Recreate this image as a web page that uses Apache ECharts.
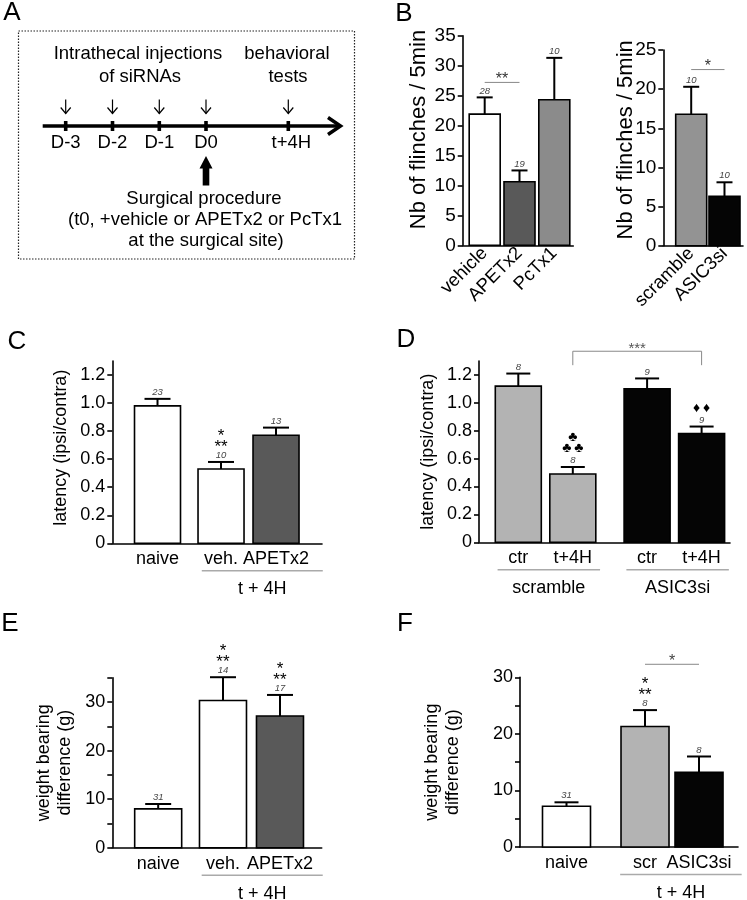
<!DOCTYPE html>
<html><head><meta charset="utf-8">
<script src="https://cdn.jsdelivr.net/npm/echarts@6/dist/echarts.min.js"></script>
<style>html,body{margin:0;padding:0;background:#fff}#c{width:747px;height:900px}</style>
</head><body><div id="c"></div><script>
// ---------------- DATA ----------------
const bLeftCats = ['vehicle', 'APETx2', 'PcTx1'];
const bLeftMean = [21.9, 10.6, 24.3];
const bLeftSem = [2.8, 1.9, 7.0];
const bLeftN = [28, 19, 10];
const bLeftSig = [[0, 1, 27.2, '**', 0]];
const bLeftTicks = [0, 5, 10, 15, 20, 25, 30, 35];

const bRightCats = ['scramble', 'ASIC3si'];
const bRightMean = [16.8, 6.3];
const bRightSem = [3.5, 1.8];
const bRightN = [10, 10];
const bRightSig = [[0, 1, 22.5, '*', 0]];
const bRightTicks = [0, 5, 10, 15, 20, 25];

const cCats = ['naive', 'veh.', 'APETx2'];
const cMean = [0.98, 0.53, 0.77];
const cSem = [0.05, 0.05, 0.055];
const cN = [23, 10, 13];
const cMarks = ['', '***', ''];
const cGroups = [['t + 4H', 1, 2]];
const cTicks = [0, 0.2, 0.4, 0.6, 0.8, 1.0, 1.2];

const dCats = ['ctr', 't+4H', 'ctr', 't+4H'];
const dMean = [1.12, 0.49, 1.10, 0.78];
const dSem = [0.09, 0.05, 0.075, 0.05];
const dN = [8, 8, 9, 9];
const dMarks = ['', '♣♣♣', '', '♦♦'];
const dGroups = [['scramble', 0, 1], ['ASIC3si', 2, 3]];
const dSig = [[1, 3, 1.37, '***', 0.1]];
const dTicks = [0, 0.2, 0.4, 0.6, 0.8, 1.0, 1.2];

const eCats = ['naive', 'veh.', 'APETx2'];
const eMean = [8.0, 30.3, 27.1];
const eSem = [1.0, 4.8, 4.35];
const eN = [31, 14, 17];
const eMarks = ['', '***', '***'];
const eGroups = [['t + 4H', 1, 2]];
const eTicks = [0, 5, 10, 15, 20, 25, 30, 35];
const eLabels = [0, 10, 20, 30];

const fCats = ['naive', 'scr', 'ASIC3si'];
const fMean = [7.2, 21.3, 13.2];
const fSem = [0.7, 2.9, 2.8];
const fN = [31, 8, 8];
const fMarks = ['', '***', ''];
const fGroups = [['t + 4H', 1, 2]];
const fSig = [[1, 2, 32.3, '*', 0]];
const fTicks = [0, 5, 10, 15, 20, 25, 30];
const fLabels = [0, 10, 20, 30];

const timelineLabels = ['D-3', 'D-2', 'D-1', 'D0', 't+4H'];

// ---------------- STYLE / LAYOUT ----------------
const FF = "'Liberation Sans', Arial, Helvetica, sans-serif";
const WHITE = '#ffffff', DARK = '#595959', MID = '#8b8b8b', MID2 = '#939393', LIGHT = '#b3b3b3', BLACK = '#050505';
const fmtInt = v => String(v);
const fmtDec = v => (v === 0 ? '0' : v.toFixed(1));

const panels = [
  { cats: bLeftCats, mean: bLeftMean, sem: bLeftSem, n: bLeftN, marks: [], groups: [], sig: bLeftSig,
    colors: [WHITE, DARK, MID],
    grid: { left: 462.7, top: 35.7, width: 110.6, height: 209.6 }, xMin: -0.632, xMax: 2.546, gap: 0,
    barW: 31, capW: 16, yMax: 35, yTicks: bLeftTicks, yLabels: bLeftTicks, yFmt: fmtInt, ySize: 19,
    yName: 'Nb of flinches / 5min', nameSize: 22, nameGap: 33, namePad: [0, 0, 0, 22],
    xRotate: 45, xSize: 18.5, xMargin: 5, sigColor: '#333', sigSize: 16 },
  { cats: bRightCats, mean: bRightMean, sem: bRightSem, n: bRightN, marks: [], groups: [], sig: bRightSig,
    colors: [MID2, BLACK],
    grid: { left: 663.3, top: 50, width: 79.7, height: 195.7 }, xMin: -0.838, xMax: 1.556, gap: 0,
    barW: 31, capW: 16, yMax: 25, yTicks: bRightTicks, yLabels: bRightTicks, yFmt: fmtInt, ySize: 19,
    yName: 'Nb of flinches / 5min', nameSize: 22, nameGap: 27, namePad: [0, 0, 0, 16],
    xRotate: 45, xSize: 18.5, xMargin: 5, sigColor: '#333', sigSize: 16 },
  { cats: cCats, mean: cMean, sem: cSem, n: cN, marks: cMarks, groups: cGroups, sig: [],
    colors: [WHITE, WHITE, DARK],
    grid: { left: 112.3, top: 361, width: 209.7, height: 182.3 }, xMin: -0.822, xMax: 2.991, gap: 0.155,
    barW: 46, capW: 26, yMax: 1.3, yTicks: cTicks, yLabels: cTicks, yFmt: fmtDec, ySize: 18,
    yName: 'latency (ipsi/contra)', nameSize: 18, nameGap: 41, namePad: [0, 0, 0, 9],
    xRotate: 0, xSize: 18, xMargin: 7, padL: 0.35, padR: 0.85 },
  { cats: dCats, mean: dMean, sem: dSem, n: dN, marks: dMarks, groups: dGroups, sig: dSig,
    colors: [LIGHT, LIGHT, BLACK, BLACK],
    grid: { left: 479, top: 361, width: 251, height: 181.3 }, xMin: -0.721, xMax: 3.884, gap: 0.363,
    barW: 46, capW: 24, yMax: 1.3, yTicks: dTicks, yLabels: dTicks, yFmt: fmtDec, ySize: 18,
    yName: 'latency (ipsi/contra)', nameSize: 18, nameGap: 40, namePad: [0, 0, 0, 0],
    xRotate: 0, xSize: 18, xMargin: 7, padL: 0.38, padR: 0.5, sigColor: '#555', sigSize: 15 },
  { cats: eCats, mean: eMean, sem: eSem, n: eN, marks: eMarks, groups: eGroups, sig: [],
    colors: [WHITE, WHITE, DARK],
    grid: { left: 112.3, top: 677.7, width: 209.4, height: 170 }, xMin: -0.805, xMax: 2.869, gap: 0.137,
    barW: 47, capW: 26, yMax: 35, yTicks: eTicks, yLabels: eLabels, yFmt: fmtInt, ySize: 18,
    yName: 'weight bearing\ndifference (g)', nameSize: 18, nameGap: 37, namePad: [0, 0, 0, 0],
    xRotate: 0, xSize: 18, xMargin: 7, padL: 0.374, padR: 0.75 },
  { cats: fCats, mean: fMean, sem: fSem, n: fN, marks: fMarks, groups: fGroups, sig: fSig,
    colors: [WHITE, LIGHT, BLACK],
    grid: { left: 520, top: 677.3, width: 218, height: 169.7 }, xMin: -0.861, xMax: 3.176, gap: 0.454,
    barW: 48, capW: 24, yMax: 30, yTicks: fTicks, yLabels: fLabels, yFmt: fmtInt, ySize: 18,
    yName: 'weight bearing\ndifference (g)', nameSize: 18, nameGap: 56, namePad: [0, 0, 0, 0],
    xRotate: 0, xSize: 18, xMargin: 7, padL: 0.46, padR: 0.79, sigColor: '#444', sigSize: 16 }
];

function positions(nCats, groups, gap) {
  const bounds = new Set();
  groups.forEach(g => { if (g[1] > 0) bounds.add(g[1]); if (g[2] + 1 < nCats) bounds.add(g[2] + 1); });
  const out = [];
  for (let i = 0; i < nCats; i++) { let b = 0; bounds.forEach(s => { if (i >= s) b++; }); out.push(i + b * gap); }
  return out;
}
function txt(x, y, text, size, extra) {
  return Object.assign({ type: 'text', x: x, y: y, silent: true,
    style: Object.assign({ text: text, fontSize: size, fontFamily: FF, fill: '#000',
      align: 'center', verticalAlign: 'middle', textAlign: 'center', textVerticalAlign: 'middle' }, extra || {}) });
}

const grid = [], xAxis = [], yAxis = [], series = [];
panels.forEach((P, k) => {
  const pos = positions(P.cats.length, P.groups, P.gap);
  grid.push(Object.assign({ containLabel: false, outerBoundsMode: 'none' }, P.grid));
  xAxis.push({ type: 'value', gridIndex: k, min: P.xMin, max: P.xMax,
    axisLine: { show: true, onZero: false, lineStyle: { color: '#000', width: 1.6 } },
    axisTick: { show: false }, splitLine: { show: false },
    axisLabel: { customValues: pos, rotate: P.xRotate, fontSize: P.xSize, fontFamily: FF, color: '#000', margin: P.xMargin,
      formatter: v => { const i = pos.findIndex(p => Math.abs(p - v) < 1e-6); return i >= 0 ? P.cats[i] : ''; } } });
  yAxis.push({ type: 'value', gridIndex: k, min: 0, max: P.yMax,
    axisLine: { show: true, onZero: false, lineStyle: { color: '#000', width: 1.6 } },
    axisTick: { show: true, length: 5, customValues: P.yTicks, lineStyle: { color: '#000', width: 1.6 } },
    splitLine: { show: false },
    axisLabel: { customValues: P.yLabels, formatter: P.yFmt, fontSize: P.ySize, fontFamily: FF, color: '#000', margin: 7 },
    name: P.yName, nameLocation: 'middle', nameGap: P.nameGap, nameMoveOverlap: false,
    nameTextStyle: { fontSize: P.nameSize, fontFamily: FF, color: '#000', lineHeight: 21, padding: P.namePad } });

  // bars + error bars + n + significance marks
  series.push({ type: 'custom', xAxisIndex: k, yAxisIndex: k, silent: true, animation: false, clip: false,
    data: P.cats.map((c, i) => [pos[i], P.mean[i], P.sem[i], P.n[i]]),
    renderItem: (params, api) => {
      const i = params.dataIndex;
      const x = api.value(0), m = api.value(1), s = api.value(2);
      const p0 = api.coord([x, 0]), p1 = api.coord([x, m]), p2 = api.coord([x, m + s]);
      const w = P.barW, cw = P.capW;
      const ch = [
        { type: 'rect', shape: { x: p0[0] - w / 2, y: p1[1], width: w, height: p0[1] - p1[1] },
          style: { fill: P.colors[i], stroke: '#000', lineWidth: 1.6 } },
        { type: 'line', shape: { x1: p1[0], y1: p1[1], x2: p2[0], y2: p2[1] }, style: { stroke: '#000', lineWidth: 2 } },
        { type: 'line', shape: { x1: p2[0] - cw / 2, y1: p2[1], x2: p2[0] + cw / 2, y2: p2[1] }, style: { stroke: '#000', lineWidth: 2 } },
        txt(p2[0], p2[1] - 1.5, String(P.n[i]), 9.5, { fontStyle: 'italic', fill: '#444', verticalAlign: 'bottom', textVerticalAlign: 'bottom' })
      ];
      const mk = P.marks[i];
      if (mk) {
        const chars = Array.from(mk);
        const star = chars[0] === '*';
        const size = star ? 17 : 14;
        const off = star ? 4 : 0;
        const sep = star ? '' : '\u2009';
        const rows = chars.length === 3 ? [[chars[1], chars[2]], [chars[0]]] : [chars];
        rows.forEach((r, j) => ch.push(txt(p2[0], p2[1] - 18.5 - j * 11.5 + off, r.join(sep), size)));
      }
      return { type: 'group', children: ch };
    } });

  if (P.sig.length) {
    series.push({ type: 'custom', xAxisIndex: k, yAxisIndex: k, silent: true, animation: false, clip: false,
      data: P.sig.map(s => [pos[s[0]], pos[s[1]], s[2], s[4]]),
      renderItem: (params, api) => {
        const s = P.sig[params.dataIndex];
        const a = api.coord([api.value(0), api.value(2)]), b = api.coord([api.value(1), api.value(2)]);
        const ch = [{ type: 'line', shape: { x1: a[0], y1: a[1], x2: b[0], y2: b[1] }, style: { stroke: '#888', lineWidth: 1 } }];
        if (api.value(3) > 0) {
          const lo = api.coord([api.value(0), api.value(2) - api.value(3)]);
          ch.push({ type: 'line', shape: { x1: a[0], y1: a[1], x2: a[0], y2: lo[1] }, style: { stroke: '#888', lineWidth: 1 } });
          ch.push({ type: 'line', shape: { x1: b[0], y1: b[1], x2: b[0], y2: lo[1] }, style: { stroke: '#888', lineWidth: 1 } });
        }
        ch.push(txt((a[0] + b[0]) / 2, a[1] - 2.5, s[3], P.sigSize, { fill: P.sigColor }));
        return { type: 'group', children: ch };
      } });
  }

  if (P.groups.length) {
    series.push({ type: 'custom', xAxisIndex: k, yAxisIndex: k, silent: true, animation: false, clip: false,
      data: P.groups.map(g => [pos[g[1]] - P.padL, pos[g[2]] + P.padR]),
      renderItem: (params, api) => {
        const g = P.groups[params.dataIndex];
        const a = api.coord([api.value(0), 0]), b = api.coord([api.value(1), 0]);
        return { type: 'group', children: [
          { type: 'line', shape: { x1: a[0], y1: a[1] + 27.5, x2: b[0], y2: a[1] + 27.5 }, style: { stroke: '#aaa', lineWidth: 1.5 } },
          txt((a[0] + b[0]) / 2, a[1] + 46, g[0], 18)
        ] };
      } });
  }
});

// ---------------- PANEL A schematic + panel letters ----------------
const tlX = [65.7, 112.5, 159.3, 206, 288.3];
const tlY = 126;
const gA = [];
gA.push({ type: 'rect', shape: { x: 18.5, y: 31, width: 336, height: 228 }, silent: true,
  style: { fill: 'none', stroke: '#222', lineWidth: 1.2, lineDash: [1.5, 1.5] } });
gA.push(txt(138, 54, 'Intrathecal injections', 18.5));
gA.push(txt(140, 77, 'of siRNAs', 18.5));
gA.push(txt(287, 54, 'behavioral', 18.5));
gA.push(txt(288, 77, 'tests', 18.5));
gA.push({ type: 'line', shape: { x1: 42.7, y1: tlY, x2: 338, y2: tlY }, silent: true, style: { stroke: '#000', lineWidth: 3.5 } });
gA.push({ type: 'polyline', shape: { points: [[328, 117.5], [340.5, tlY], [328, 134.5]] }, silent: true,
  style: { stroke: '#000', lineWidth: 3.5, fill: 'none' } });
timelineLabels.forEach((lab, i) => {
  const x = tlX[i];
  gA.push({ type: 'rect', shape: { x: x - 1.8, y: tlY - 5, width: 3.6, height: 10 }, silent: true, style: { fill: '#000' } });
  gA.push({ type: 'line', shape: { x1: x, y1: 99.5, x2: x, y2: 113.5 }, silent: true, style: { stroke: '#000', lineWidth: 1.2 } });
  gA.push({ type: 'polyline', shape: { points: [[x - 5, 107.5], [x, 113.5], [x + 5, 107.5]] }, silent: true,
    style: { stroke: '#000', lineWidth: 1.2, fill: 'none' } });
  gA.push(txt(x + (i === 4 ? 3 : 0), 143, lab, 18.5));
});
gA.push({ type: 'polygon', silent: true, shape: { points: [[206, 156], [212.5, 168.5], [209.3, 168.5], [209.3, 185.5], [202.7, 185.5], [202.7, 168.5], [199.5, 168.5]] },
  style: { fill: '#000' } });
gA.push(txt(204, 199, 'Surgical procedure', 18.5));
gA.push(txt(205, 220, '(t0, +vehicle or APETx2 or PcTx1', 18.5));
gA.push(txt(206, 241, 'at the surgical site)', 18.5));
[['A', 12, 13], ['B', 404, 14], ['C', 17, 342], ['D', 406, 340], ['E', 10, 624], ['F', 405, 624]].forEach(l => {
  gA.push(txt(l[1], l[2], l[0], 26));
});

const chart = echarts.init(document.getElementById('c'), null, { renderer: 'canvas' });
chart.setOption({
  backgroundColor: '#ffffff',
  animation: false,
  textStyle: { fontFamily: FF },
  grid: grid, xAxis: xAxis, yAxis: yAxis, series: series,
  graphic: { elements: gA }
});
</script></body></html>
